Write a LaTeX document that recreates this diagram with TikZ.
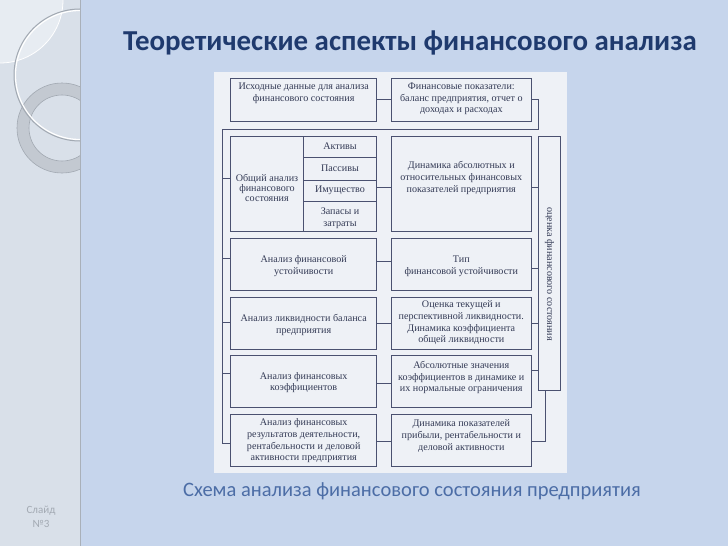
\documentclass[tikz,border=0pt]{standalone}
\usepackage{fontspec}
\setmainfont{Liberation Serif}
\newfontfamily\carlito{Carlito}
\definecolor{bgblue}{HTML}{C6D5EC}
\definecolor{sidegray}{HTML}{D9E0E9}
\definecolor{sidelight}{HTML}{E7ECF2}
\definecolor{ringgray}{HTML}{C3C9D1}
\definecolor{ringdark}{HTML}{A2A9B2}
\definecolor{sepgray}{HTML}{A9B0B9}
\definecolor{diagbg}{HTML}{EEF1F6}
\definecolor{boxline}{HTML}{4A5170}
\definecolor{boxtext}{HTML}{333A55}
\definecolor{titleblue}{HTML}{1F3A6E}
\definecolor{capblue}{HTML}{4C6DA6}
\definecolor{slidegray}{HTML}{A3AAB3}
\begin{document}
\begin{tikzpicture}[x=1pt,y=-1pt,
  box/.style={draw=boxline, line width=1pt, inner sep=0pt, outer sep=0pt, anchor=north west},
  txt/.style={align=center, inner sep=0pt, text=boxtext, font=\fontsize{10.1}{11.7}\selectfont},
  link/.style={draw=boxline, line width=1pt}]
\useasboundingbox (0,0) rectangle (728,546);
\fill[bgblue] (0,0) rectangle (728,546);
% sidebar
\fill[sidegray] (0,0) rectangle (80,546);
\begin{scope}
  \clip (0,0) rectangle (80,546);
  \fill[sidelight] (0,0) circle (63pt);
  \draw[white, line width=0.8pt] (0,0) circle (63pt);
  \draw[ringgray, line width=12pt] (62,128) circle (39pt);
  \draw[ringdark, line width=0.6pt] (62,128) circle (45pt) (62,128) circle (33pt);
  \draw[white, line width=1.2pt] (80,75) circle (64.5pt);
  \draw[ringdark, line width=1pt] (80,75) circle (66pt);
\end{scope}
\draw[sepgray, line width=1.5pt] (80.5,0) -- (80.5,546);
% title and caption
\node[font=\carlito\bfseries\fontsize{28.9}{33}\selectfont, text=titleblue] (title) at (410,43) {Теоретические аспекты финансового анализа};
\node[font=\carlito\fontsize{20.5}{24}\selectfont, text=capblue] (cap) at (412,491) {Схема анализа финансового состояния предприятия};
\node[font=\carlito\fontsize{11}{14}\selectfont, text=slidegray, align=center] (slide) at (41,517) {Слайд\\№3};
% diagram background
\fill[diagbg] (214,72) rectangle (567,473);
% boxes
\node[box, minimum width=146pt, minimum height=43pt] (A) at (230.7,78) {};
\node[box, minimum width=139.3pt, minimum height=43pt] (B) at (391.7,78) {};
\node[box, minimum width=72.6pt, minimum height=95.5pt] (L1) at (230.7,136) {};
\node[box, minimum width=73.2pt, minimum height=21pt] (C1) at (303.3,136) {};
\node[box, minimum width=73.2pt, minimum height=23.5pt] (C2) at (303.3,157) {};
\node[box, minimum width=73.2pt, minimum height=21pt] (C3) at (303.3,180.5) {};
\node[box, minimum width=73.2pt, minimum height=30pt] (C4) at (303.3,201.5) {};
\node[box, minimum width=139.3pt, minimum height=95.5pt] (R1) at (391.7,136) {};
\node[box, minimum width=146pt, minimum height=52pt] (L2) at (230.7,238) {};
\node[box, minimum width=139.3pt, minimum height=52pt] (R2) at (391.7,238) {};
\node[box, minimum width=146pt, minimum height=52pt] (L3) at (230.7,297.5) {};
\node[box, minimum width=139.3pt, minimum height=52pt] (R3) at (391.7,297.5) {};
\node[box, minimum width=146pt, minimum height=51.5pt] (L4) at (230.7,355.5) {};
\node[box, minimum width=139.3pt, minimum height=51.5pt] (R4) at (391.7,355.5) {};
\node[box, minimum width=146pt, minimum height=52.7pt] (L5) at (230.7,414) {};
\node[box, minimum width=139.3pt, minimum height=52.7pt] (R5) at (391.7,414) {};
\node[box, minimum width=22.4pt, minimum height=253.3pt] (T) at (538.3,136.7) {};
% texts
\node[txt] (tA) at (303.7,93.2) {Исходные данные для анализа\\финансового состояния};
\node[txt] (tB) at (461.3,99) {Финансовые показатели:\\баланс предприятия, отчет о\\доходах и расходах};
\node[txt, font=\fontsize{10.1}{10.2}\selectfont] (tL1) at (267,188) {Общий анализ\\финансового\\состояния};
\node[txt] (tC1) at (340,146.5) {Активы};
\node[txt] (tC2) at (340,168.5) {Пассивы};
\node[txt] (tC3) at (340,190) {Имущество};
\node[txt] (tC4) at (340,218) {Запасы и\\затраты};
\node[txt] (tR1) at (461.3,178) {Динамика абсолютных и\\относительных финансовых\\показателей предприятия};
\node[txt] (tL2) at (303.7,266) {Анализ финансовой\\устойчивости};
\node[txt] (tR2) at (461.3,266) {Тип\\финансовой устойчивости};
\node[txt] (tL3) at (303.7,324.7) {Анализ ликвидности баланса\\предприятия};
\node[txt] (tR3) at (461.3,323) {Оценка текущей и\\перспективной ликвидности.\\Динамика коэффициента\\общей ликвидности};
\node[txt] (tL4) at (303.7,382.5) {Анализ финансовых\\коэффициентов};
\node[txt] (tR4) at (461.3,377.7) {Абсолютные значения\\коэффициентов в динамике и\\их нормальные ограничения};
\node[txt] (tL5) at (303.7,440.8) {Анализ финансовых\\результатов деятельности,\\рентабельности и деловой\\активности предприятия};
\node[txt] (tR5) at (461.3,436) {Динамика показателей\\прибыли, рентабельности и\\деловой активности};
\node[txt, rotate=-90] (tT) at (549.5,274) {оценка финансового состояния};
% connectors
\coordinate (br) at (538,129);
\coordinate (bl) at (222.7,129);
\coordinate (bb) at (222.7,443);
\draw[link] (A.east) -- (B.west);
\draw[link] (B.east) -- (B.east -| br) -- (br) -- (bl) -- (bb) -- (bb -| L5.west);
\coordinate (k1) at (222.7,178);
\coordinate (k2) at (222.7,258);
\coordinate (k3) at (222.7,322);
\coordinate (k4) at (222.7,373);
\draw[link] (k1) -- (k1 -| L1.west);
\draw[link] (k2) -- (k2 -| L2.west);
\draw[link] (k3) -- (k3 -| L3.west);
\draw[link] (k4) -- (k4 -| L4.west);
\coordinate (m1) at (384,187);
\coordinate (m2) at (384,261);
\coordinate (m3) at (384,323);
\coordinate (m4) at (384,383);
\coordinate (m5) at (384,441);
\draw[link] (m1 -| C3.east) -- (m1 -| R1.west);
\draw[link] (m2 -| L2.east) -- (m2 -| R2.west);
\draw[link] (m3 -| L3.east) -- (m3 -| R3.west);
\draw[link] (m4 -| L4.east) -- (m4 -| R4.west);
\draw[link] (m5 -| L5.east) -- (m5 -| R5.west);
\coordinate (r1) at (535,187);
\coordinate (r2) at (535,268);
\coordinate (r3) at (535,323);
\coordinate (r4) at (535,370);
\coordinate (r5) at (545,441);
\draw[link] (r1 -| R1.east) -- (r1 -| T.west);
\draw[link] (r2 -| R2.east) -- (r2 -| T.west);
\draw[link] (r3 -| R3.east) -- (r3 -| T.west);
\draw[link] (r4 -| R4.east) -- (r4 -| T.west);
\draw[link] (r5 -| R5.east) -- (r5) -- (r5 |- T.south);
\end{tikzpicture}
\end{document}
